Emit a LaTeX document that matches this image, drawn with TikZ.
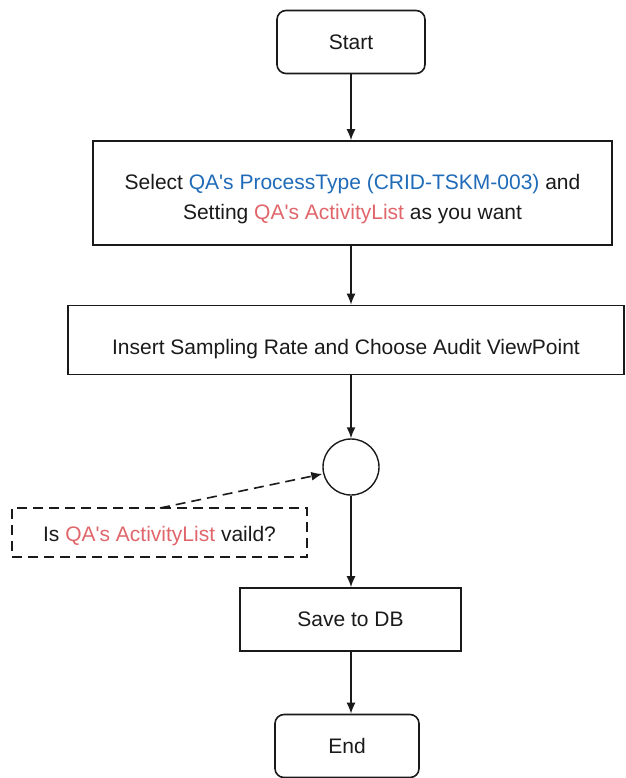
\documentclass[tikz,border=0pt]{standalone}
\usepackage{fontspec}
\setmainfont{Liberation Sans}
\usetikzlibrary{arrows.meta}
\definecolor{qablue}{HTML}{1F6BB8}
\definecolor{qared}{HTML}{E0666B}
\definecolor{ink}{HTML}{1A1A1A}
\newcommand{\qa}{QA\textquotesingle s}
\begin{document}
\begin{tikzpicture}[x=1pt,y=-1pt,
  every node/.style={font=\fontsize{21}{30}\selectfont, text=ink},
  terminal/.style={draw=ink, line width=1.6pt, rounded corners=9pt, minimum width=148pt, minimum height=63pt, inner sep=0pt},
  procbox/.style={draw=ink, line width=1.6pt, inner sep=0pt, align=center},
  junction/.style={draw=ink, line width=1.4pt, circle, minimum size=56pt, inner sep=0pt},
  notebox/.style={draw=ink, line width=1.6pt, dash pattern=on 10pt off 6pt, inner sep=0pt},
  flow/.style={draw=ink, line width=1.6pt, -{Latex[length=11pt,width=9pt]}},
  hint/.style={draw=ink, line width=1.6pt, dash pattern=on 10pt off 6pt, -{Latex[length=11pt,width=9pt]}}]
\useasboundingbox (0,0) rectangle (625,778);
\node[terminal] (start) at (351,42) {Start};
\node[procbox, minimum width=519pt, minimum height=104pt,
  label={[align=center, yshift=-6pt]center:{Select \textcolor{qablue}{\qa{} ProcessType (CRID-TSKM-003)} and\\
   Setting \textcolor{qared}{\qa{} ActivityList} as you want}}] (select) at (352.5,193) {};
\node[procbox, minimum width=556pt, minimum height=69pt,
  label={[yshift=-9pt]center:Insert Sampling Rate and Choose Audit ViewPoint}] (insert) at (346,340) {};
\node[junction] (join) at (351,467) {};
\node[notebox, minimum width=295pt, minimum height=49pt,
  label={[yshift=-4pt]center:{Is \textcolor{qared}{\qa{} ActivityList} vaild?}}] (check) at (159.5,532.5) {};
\node[procbox, minimum width=221pt, minimum height=63pt] (save) at (350.5,619.5) {Save to DB};
\node[terminal, minimum width=144pt] (end) at (347,746) {End};
\draw[flow] (start.south) -- (start.south |- select.north);
\draw[flow] (select.south -| start) -- (start |- insert.north);
\draw[flow] (insert.south -| start) -- (join.north);
\draw[flow] (join.south) -- (start |- save.north);
\draw[flow] (save.south -| start) -- (start |- end.north);
\coordinate (tail) at (160,508);
\draw[hint] (tail) -- (join.west |- 0,474);
\end{tikzpicture}
\end{document}
